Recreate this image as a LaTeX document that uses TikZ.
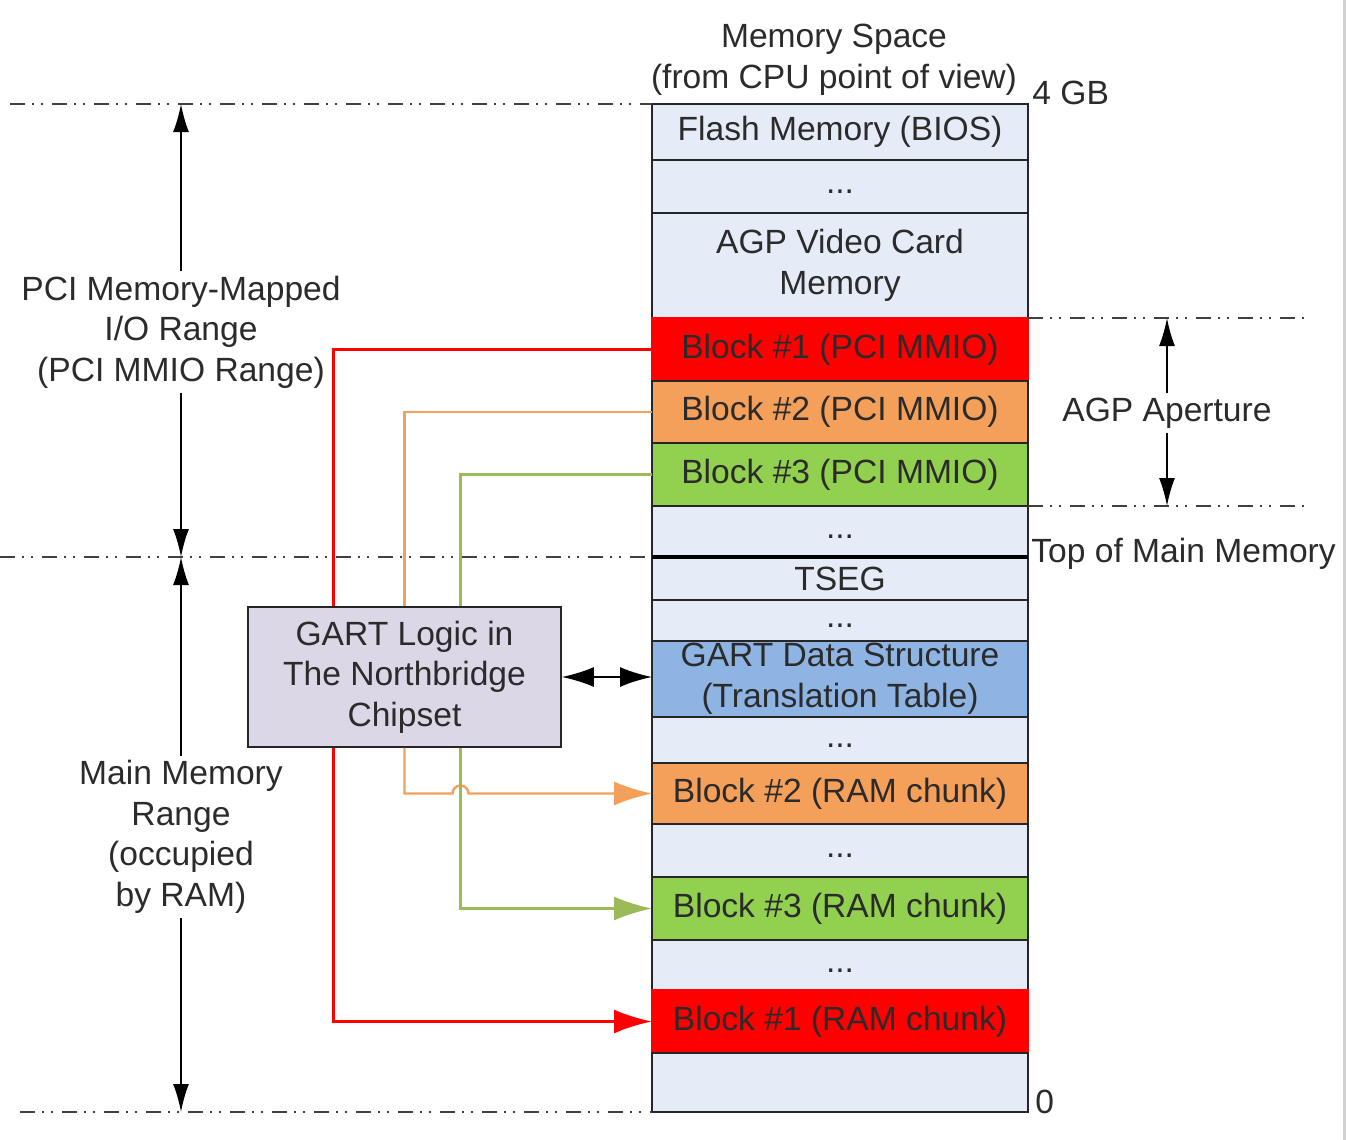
\documentclass[tikz,border=0pt]{standalone}
\usepackage{fontspec}
\setmainfont{Liberation Sans}
\usepackage{tikz}
\usetikzlibrary{arrows.meta}
\usetikzlibrary{positioning}
\tikzset{>=latex}

\definecolor{memfill}{HTML}{E6ECF7}
\definecolor{redblk}{HTML}{FF0000}
\definecolor{orgblk}{HTML}{F5A05A}
\definecolor{grnblk}{HTML}{92D050}
\definecolor{blublk}{HTML}{8EB4E3}
\definecolor{gartfill}{HTML}{DCD7E6}
\definecolor{txtgray}{HTML}{2B2B2B}
\definecolor{grnln}{HTML}{9BBB59}
\newcommand\diagfont{\fontsize{16.8}{20.3}\selectfont}
\newcommand\memdots{\smash{\raisebox{-3.5pt}{...}}}

\begin{document}
\begin{tikzpicture}[x=0.5pt, y=-0.5pt,
	memrow/.style={draw=black!85, line width=0.8pt, fill=memfill, minimum width=188pt, minimum height=#1, inner sep=0pt, outer sep=0pt, align=center, font=\diagfont, text=txtgray},
	lbl/.style={font=\diagfont, text=txtgray, align=center, inner sep=2pt},
	rangeline/.style={draw=black!75, line width=1pt, dash pattern=on 7.5pt off 3.5pt on 1pt off 3.5pt on 1pt off 4.5pt},
	rngarr/.style={draw=black, line width=0.9pt, -{Latex[length=14pt,width=8pt]}},
	colarr/.style={-{Latex[length=19pt,width=12pt]}},
	redln/.style={draw=redblk, line width=1.5pt},
	orgln/.style={draw=orgblk, line width=1.2pt},
	grnwire/.style={draw=grnln, line width=1.2pt}]
		\useasboundingbox (0,0) rectangle (1346,1140);
		\fill[black!18] (1343,0) rectangle (1346,1140);
		% memory column, top to bottom
		\node[memrow=28pt] (flash) at (840,132) {Flash Memory (BIOS)};
		\node[memrow=26.5pt] (dots1) [below=0pt of flash] {\memdots};
		\node[memrow=52.5pt] (agpmem) [below=0pt of dots1] {AGP Video Card\\Memory};
		\node[memrow=31.5pt, fill=redblk, draw=redblk] (b1pci) [below=0pt of agpmem] {Block \#1 (PCI MMIO)};
		\node[memrow=31pt, fill=orgblk] (b2pci) [below=0pt of b1pci] {Block \#2 (PCI MMIO)};
		\node[memrow=31.5pt, fill=grnblk] (b3pci) [below=0pt of b2pci] {Block \#3 (PCI MMIO)};
		\node[memrow=25.5pt] (dots2) [below=0pt of b3pci] {\memdots};
		\node[memrow=21.5pt] (tseg) [below=0pt of dots2] {TSEG};
		\node[memrow=20.5pt] (dots3) [below=0pt of tseg] {\memdots};
		\node[memrow=38pt, fill=blublk] (gdata) [below=0pt of dots3] {GART Data Structure\\(Translation Table)};
		\node[memrow=23pt] (dots4) [below=0pt of gdata] {\memdots};
		\node[memrow=30.5pt, fill=orgblk] (b2ram) [below=0pt of dots4] {Block \#2 (RAM chunk)};
		\node[memrow=26.5pt] (dots5) [below=0pt of b2ram] {\memdots};
		\node[memrow=31.5pt, fill=grnblk] (b3ram) [below=0pt of dots5] {Block \#3 (RAM chunk)};
		\node[memrow=25pt] (dots6) [below=0pt of b3ram] {\memdots};
		\node[memrow=31.5pt, fill=redblk, draw=redblk] (b1ram) [below=0pt of dots6] {Block \#1 (RAM chunk)};
		\node[memrow=29.5pt] (bottom) [below=0pt of b1ram] {};
		\draw[black, line width=1.6pt] (dots2.south west) -- (dots2.south east);
		% labels round the column
		\node[lbl] (title) at (834,60) {Memory Space\\(from CPU point of view)};
		\node[lbl, anchor=west] (top4g) at (1028,93) {4 GB};
		\node[lbl, anchor=west] (topmain) at (1027,554) {Top of Main Memory};
		\node[lbl, anchor=west] (zero) at (1031,1102) {0};
		% range lines
		\coordinate (ptop) at (181,104);
		\coordinate (pmid) at (181,557);
		\coordinate (pbot) at (181,1112);
		\coordinate (atop) at (1167,318);
		\coordinate (abot) at (1167,506);
		\draw[rangeline] (10,104) -- (flash.north west);
		\draw[rangeline] (0,557) -- (dots2.south west);
		\draw[rangeline] (20,1112) -- (bottom.south west);
		\draw[rangeline] (b1pci.north east) -- (1310,318);
		\draw[rangeline] (b3pci.south east) -- (1310,506);
		\node[lbl] (pcilbl) at (181,332) {PCI Memory-Mapped\\I/O Range\\(PCI MMIO Range)};
		\node[lbl] (mainlbl) at (181,837) {Main Memory\\Range\\(occupied\\by RAM)};
		\node[lbl] (aperture) at (1167,413) {AGP Aperture};
		\draw[rngarr] (pcilbl.north) -- (ptop);
		\draw[rngarr] (pcilbl.south) -- (pmid);
		\draw[rngarr] (mainlbl.north) -- (pmid);
		\draw[rngarr] (mainlbl.south) -- (pbot);
		\draw[rngarr] (aperture.north) -- (atop);
		\draw[rngarr] (aperture.south) -- (abot);
		% GART logic and the remapping wires
		\node[draw=black!85, line width=0.8pt, fill=gartfill, minimum width=156.5pt, minimum height=70pt, inner sep=0pt, lbl] (gart) at (404.5,677) {GART Logic in\\The Northbridge\\Chipset};
		\coordinate (gx) at ([xshift=28pt]gart.south);
		\draw[redln] (b1pci.west) -| ([xshift=43pt]gart.north west);
		\draw[redln, colarr] ([xshift=43pt]gart.south west) |- (b1ram.west);
		\draw[orgln] (b2pci.west) -| (gart.north);
		\draw[orgln, colarr] (gart.south) |- ([xshift=-4pt]gx |- b2ram.west) arc[start angle=180, end angle=0, radius=4pt] -- (b2ram.west);
		\draw[grnwire] (b3pci.west) -| ([xshift=28pt]gart.north);
		\draw[grnwire, colarr] (gx) |- (b3ram.west);
		\draw[black, line width=1pt, {Latex[length=16pt,width=10pt]}-{Latex[length=16pt,width=10pt]}] (gart.east) -- (gart.east -| gdata.west);
	\end{tikzpicture}
\end{document}
